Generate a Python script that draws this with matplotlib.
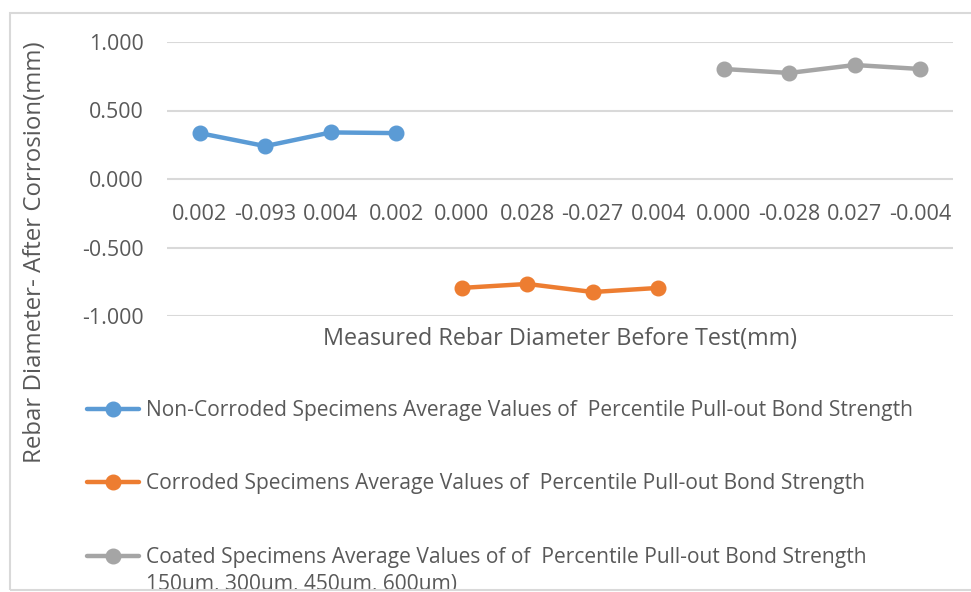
import matplotlib
matplotlib.use("Agg")
import matplotlib.pyplot as plt
import numpy as np
from matplotlib.patches import Rectangle

plt.rcParams['font.family'] = ['Open Sans', 'DejaVu Sans']

categories = ["0.002", "-0.093", "0.004", "0.002", "0.000", "0.028", "-0.027", "0.004",
              "0.000", "-0.028", "0.027", "-0.004"]
nan = np.nan
non_corroded = [0.335, 0.240, 0.340, 0.335, nan, nan, nan, nan, nan, nan, nan, nan]
corroded = [nan, nan, nan, nan, -0.795, -0.766, -0.825, -0.795, nan, nan, nan, nan]
coated = [nan, nan, nan, nan, nan, nan, nan, nan, 0.803, 0.774, 0.832, 0.803]
labels = [
    "Non-Corroded Specimens Average Values of  Percentile Pull-out Bond Strength",
    "Corroded Specimens Average Values of  Percentile Pull-out Bond Strength",
    "Coated Specimens Average Values of of  Percentile Pull-out Bond Strength",
]
coated_label_cont = "150um, 300um, 450um, 600um)"
colors = ["#5B9BD5", "#ED7D31", "#A5A5A5"]
yticks = [1.0, 0.5, 0.0, -0.5, -1.0]

W, H = 971, 592
TXT = '#595959'
fig = plt.figure(figsize=(W / 100, H / 100), dpi=100)
ax = fig.add_axes([167 / W, (H - 316) / H, (953 - 167) / W, (316 - 42) / H])

x = np.arange(len(categories))
handles = []
for vals, c, lab in zip([non_corroded, corroded, coated], colors, labels):
    h, = ax.plot(x, vals, color=c, lw=3.2, marker='o', markersize=10.5, label=lab,
                 solid_capstyle='round')
    handles.append(h)

ax.set_xlim(-0.5, len(categories) - 0.5)
ax.set_ylim(-1.0, 1.0)
ax.set_yticks(yticks)
ax.set_yticklabels([f"{v:.3f}" for v in yticks])
ax.set_xticks(x)
ax.set_xticklabels(categories)
ax.grid(axis='y', color='#D9D9D9', lw=1.5)
ax.set_axisbelow(True)
for s in ax.spines.values():
    s.set_visible(False)
ax.spines['bottom'].set_position(('data', 0))
ax.tick_params(axis='both', length=0, colors=TXT)
ax.tick_params(axis='x', pad=18, labelsize=15.6)
ax.tick_params(axis='y', pad=16.5, labelsize=15.4)

fig.text(560 / W, 1 - 339 / H, "Measured Rebar Diameter Before Test(mm)", ha='center', va='center',
         fontsize=16.8, color=TXT)
fig.text(35 / W, 1 - 252 / H, "Rebar Diameter- After Corrosion(mm)", ha='center', va='center',
         rotation=90, fontsize=17.3, color=TXT)

leg = ax.legend(handles=handles, loc='upper left', bbox_to_anchor=(87 / W, 1 - 400 / H),
                bbox_transform=fig.transFigure, frameon=False, fontsize=15.1,
                labelspacing=2.5, handlelength=2.5, handletextpad=0.3, borderpad=0,
                borderaxespad=0)
for t in leg.get_texts():
    t.set_color(TXT)

fig.canvas.draw()
bb = leg.get_texts()[2].get_window_extent()
fig.text(bb.x0 / W, (bb.y0 - 6) / H, coated_label_cont, ha='left', va='top',
         fontsize=15.1, color=TXT)

# outer frame and clipping of overflow
fig.add_artist(Rectangle((0, 0), 1, 2 / H, transform=fig.transFigure, facecolor='white',
                         edgecolor='none', zorder=10))
fig.add_artist(Rectangle((10 / W, 2 / H), 1.2, (590 - 13) / H, transform=fig.transFigure,
                         facecolor='none', edgecolor='#D9D9D9', lw=1.5, zorder=11))

fig.savefig("out.png", dpi=100)
